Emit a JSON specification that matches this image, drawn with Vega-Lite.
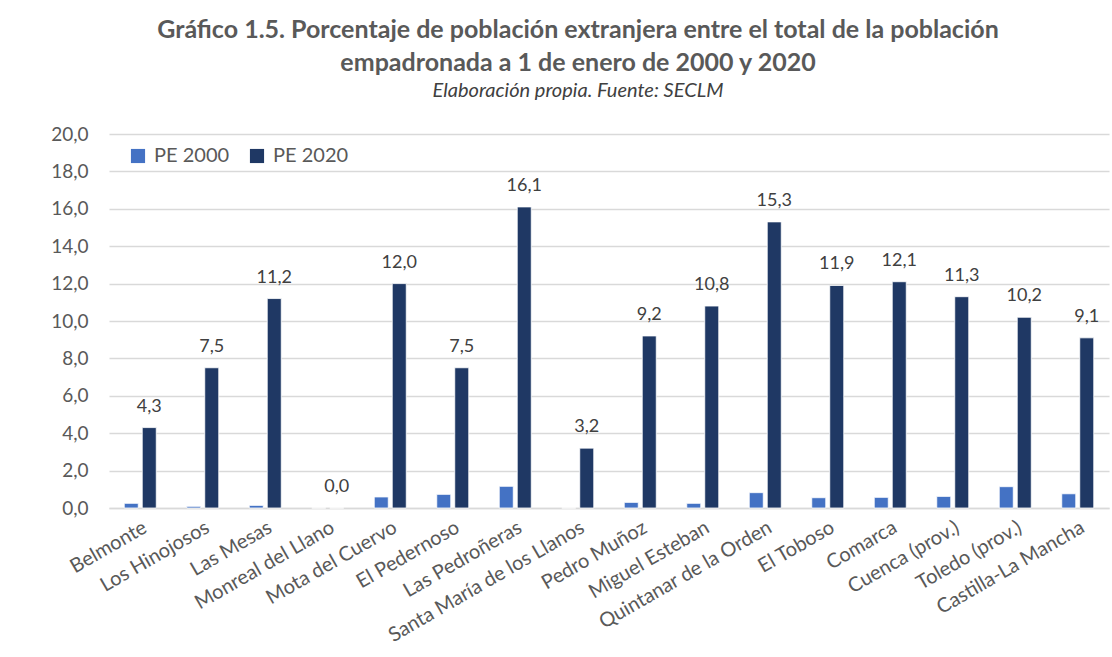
{
  "$schema": "https://vega.github.io/schema/vega-lite/v6.json",
  "autosize": {"type": "none"},
  "padding": {"left": 109, "top": 134, "right": 3, "bottom": 149},
  "width": 1000,
  "height": 374,
  "background": "white",
  "config": {
    "locale": {"number": {"decimal": ",", "thousands": ".", "grouping": [3], "currency": ["", " €"]}},
    "font": "Lato",
    "view": {"stroke": null}
  },
  "title": {
    "text": ["Gráfico 1.5. Porcentaje de población extranjera entre el total de la población", "empadronada a 1 de enero de 2000 y 2020"],
    "subtitle": "Elaboración propia. Fuente: SECLM",
    "font": "Lato",
    "fontSize": 25,
    "fontWeight": "bold",
    "color": "#595959",
    "lineHeight": 33,
    "subtitleFont": "Lato",
    "subtitleFontSize": 20,
    "subtitleFontStyle": "italic",
    "subtitleColor": "#404040",
    "subtitlePadding": 5,
    "anchor": "middle",
    "dx": -31,
    "offset": 24
  },
  "data": {
    "values": [
      {"cat": "Belmonte", "series": "PE 2000", "value": 0.25},
      {"cat": "Belmonte", "series": "PE 2020", "value": 4.3},
      {"cat": "Los Hinojosos", "series": "PE 2000", "value": 0.09},
      {"cat": "Los Hinojosos", "series": "PE 2020", "value": 7.5},
      {"cat": "Las Mesas", "series": "PE 2000", "value": 0.14},
      {"cat": "Las Mesas", "series": "PE 2020", "value": 11.2},
      {"cat": "Monreal del Llano", "series": "PE 2000", "value": 0.0},
      {"cat": "Monreal del Llano", "series": "PE 2020", "value": 0.0},
      {"cat": "Mota del Cuervo", "series": "PE 2000", "value": 0.59},
      {"cat": "Mota del Cuervo", "series": "PE 2020", "value": 12.0},
      {"cat": "El Pedernoso", "series": "PE 2000", "value": 0.73},
      {"cat": "El Pedernoso", "series": "PE 2020", "value": 7.5},
      {"cat": "Las Pedroñeras", "series": "PE 2000", "value": 1.16},
      {"cat": "Las Pedroñeras", "series": "PE 2020", "value": 16.1},
      {"cat": "Santa María de los Llanos", "series": "PE 2000", "value": 0.0},
      {"cat": "Santa María de los Llanos", "series": "PE 2020", "value": 3.2},
      {"cat": "Pedro Muñoz", "series": "PE 2000", "value": 0.30},
      {"cat": "Pedro Muñoz", "series": "PE 2020", "value": 9.2},
      {"cat": "Miguel Esteban", "series": "PE 2000", "value": 0.25},
      {"cat": "Miguel Esteban", "series": "PE 2020", "value": 10.8},
      {"cat": "Quintanar de la Orden", "series": "PE 2000", "value": 0.82},
      {"cat": "Quintanar de la Orden", "series": "PE 2020", "value": 15.3},
      {"cat": "El Toboso", "series": "PE 2000", "value": 0.55},
      {"cat": "El Toboso", "series": "PE 2020", "value": 11.9},
      {"cat": "Comarca", "series": "PE 2000", "value": 0.57},
      {"cat": "Comarca", "series": "PE 2020", "value": 12.1},
      {"cat": "Cuenca (prov.)", "series": "PE 2000", "value": 0.62},
      {"cat": "Cuenca (prov.)", "series": "PE 2020", "value": 11.3},
      {"cat": "Toledo (prov.)", "series": "PE 2000", "value": 1.14},
      {"cat": "Toledo (prov.)", "series": "PE 2020", "value": 10.2},
      {"cat": "Castilla-La Mancha", "series": "PE 2000", "value": 0.76},
      {"cat": "Castilla-La Mancha", "series": "PE 2020", "value": 9.1}
    ]
  },
  "encoding": {
    "x": {
      "field": "cat",
      "type": "nominal",
      "sort": null,
      "title": null,
      "scale": {"paddingInner": 0.488, "paddingOuter": 0.244},
      "axis": {
        "labelAngle": -30,
        "labelAlign": "right",
        "labelBaseline": "top",
        "labelFontSize": 20,
        "labelColor": "#595959",
        "labelFont": "Lato",
        "labelPadding": 9,
        "labelLimit": 0,
        "labelOverlap": false,
        "ticks": false,
        "domainColor": "#D9D9D9",
        "domainWidth": 1.5,
        "grid": false
      }
    },
    "xOffset": {
      "field": "series",
      "type": "nominal",
      "scale": {"paddingInner": 0.222, "paddingOuter": 0}
    },
    "y": {
      "field": "value",
      "type": "quantitative",
      "title": null,
      "scale": {"domain": [0, 20], "nice": false},
      "axis": {
        "values": [0, 2, 4, 6, 8, 10, 12, 14, 16, 18, 20],
        "format": ".1f",
        "labelFontSize": 19,
        "labelColor": "#595959",
        "labelFont": "Lato",
        "labelPadding": 21,
        "ticks": false,
        "domain": false,
        "gridColor": "#D9D9D9",
        "gridWidth": 1.5
      }
    }
  },
  "layer": [
    {
      "mark": {"type": "bar", "stroke": "white", "strokeWidth": 0.8},
      "encoding": {
        "color": {
          "field": "series",
          "type": "nominal",
          "scale": {"domain": ["PE 2000", "PE 2020"], "range": ["#4472C4", "#1F3864"]},
          "legend": {
            "title": null,
            "orient": "none",
            "legendX": 19,
            "legendY": 12,
            "direction": "horizontal",
            "symbolType": "square",
            "symbolSize": 200,
            "symbolStrokeWidth": 0,
            "labelFontSize": 20,
            "labelColor": "#595959",
            "labelFont": "Lato",
            "columnPadding": 17,
            "labelOffset": 6
          }
        }
      }
    },
    {
      "mark": {"type": "text", "baseline": "alphabetic", "dy": -16, "fontSize": 18, "color": "#404040", "font": "Lato"},
      "encoding": {
        "text": {
          "condition": {"test": "datum.series === 'PE 2020'", "field": "value", "type": "quantitative", "format": ".1f"},
          "value": ""
        }
      }
    }
  ]
}
